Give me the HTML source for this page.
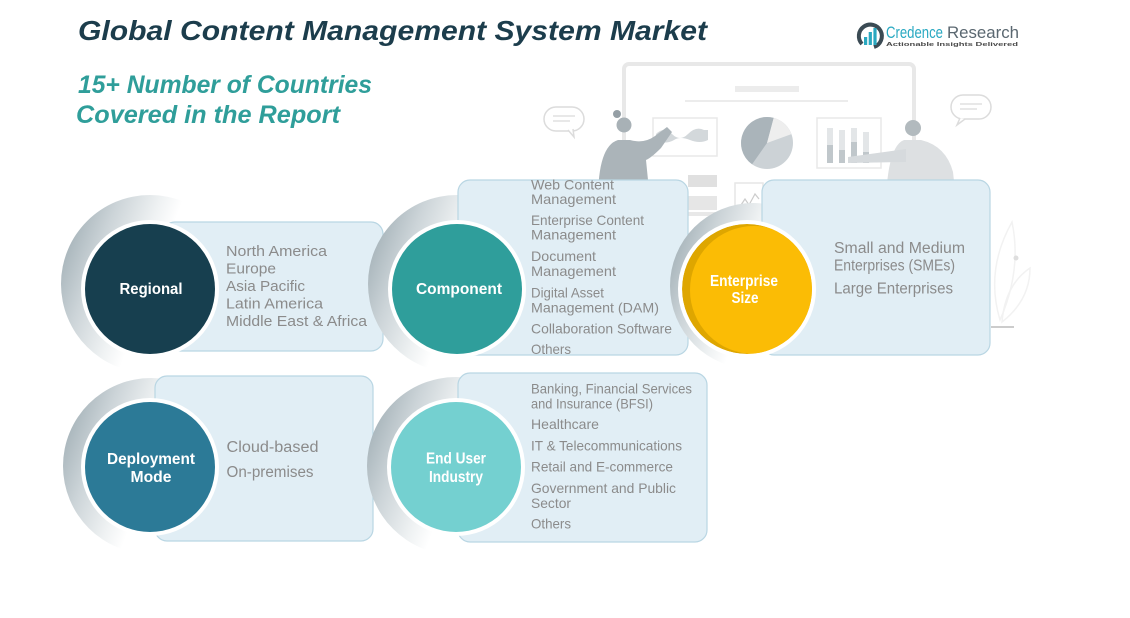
<!DOCTYPE html>
<html><head><meta charset="utf-8"><style>
html,body{margin:0;padding:0;background:#fff;}
svg{display:block;}
text{font-family:"Liberation Sans",Arial,sans-serif;}
.it{fill:#8b8b8b;}
.lb{fill:#ffffff;font-weight:bold;}
</style></head><body>
<svg width="1130" height="618" viewBox="0 0 1130 618" xmlns="http://www.w3.org/2000/svg">
<defs>
<linearGradient id="cr" x1="0" y1="0.35" x2="0.8" y2="0.65">
<stop offset="0" stop-color="#a8b5bb"/>
<stop offset="0.22" stop-color="#ccd4d8"/>
<stop offset="0.48" stop-color="#eff2f3"/>
<stop offset="0.62" stop-color="#ffffff"/>
</linearGradient>
<clipPath id="ec"><circle cx="747" cy="289" r="65"/></clipPath>
</defs>
<rect width="1130" height="618" fill="#fff"/>

<!-- Title -->
<text x="78" y="40" font-size="27.5" font-weight="bold" font-style="italic" fill="#1c3d4c" textLength="629" lengthAdjust="spacingAndGlyphs">Global Content Management System Market</text>
<text x="78" y="93" font-size="25" font-weight="bold" font-style="italic" fill="#2f9e9a" textLength="294" lengthAdjust="spacingAndGlyphs">15+ Number of Countries</text>
<text x="76" y="123" font-size="25" font-weight="bold" font-style="italic" fill="#2f9e9a" textLength="264" lengthAdjust="spacingAndGlyphs">Covered in the Report</text>

<!-- Logo -->
<path d="M862 44 A11.5 11.5 0 1 1 874 47" fill="none" stroke="#3b4b54" stroke-width="4"/>
<rect x="864" y="37" width="3.2" height="8" fill="#2aa8c0"/>
<rect x="868.7" y="32" width="3.2" height="13" fill="#2aa8c0"/>
<rect x="873.4" y="28" width="3.2" height="17" fill="#2aa8c0"/>
<text x="886" y="38" font-size="17" fill="#29a9c2" textLength="57" lengthAdjust="spacingAndGlyphs">Credence</text>
<text x="947" y="38" font-size="17" fill="#5a6770" textLength="72" lengthAdjust="spacingAndGlyphs">Research</text>
<text x="886" y="46" font-size="5.5" font-weight="bold" fill="#4a4a4a" textLength="132" lengthAdjust="spacingAndGlyphs">Actionable Insights Delivered</text>

<!-- Background illustration -->
<g>
 <rect x="624" y="64" width="290" height="150" rx="5" fill="#fff" stroke="#e8e8e8" stroke-width="4"/>
 <rect x="735" y="86" width="64" height="6" fill="#ececec"/>
 <line x1="685" y1="101" x2="848" y2="101" stroke="#ececec" stroke-width="2"/>
 <rect x="653" y="118" width="64" height="38" fill="#fff" stroke="#e8e8e8" stroke-width="1.5"/>
 <path d="M656 134 q8 -8 16 0 t16 0 t16 -4 l4 0 l0 10 q-8 4 -18 0 t-16 0 t-18 2 z" fill="#d3d8db"/>
 <circle cx="767" cy="143" r="26" fill="#ccd2d6"/>
 <path d="M767 143 L773.7 117.9 A26 26 0 0 0 752.1 164.3 Z" fill="#aab4ba"/>
 <path d="M767 143 L773.7 117.9 A26 26 0 0 1 791.4 134.1 Z" fill="#eeeeee"/>
 <rect x="817" y="118" width="64" height="50" fill="#fff" stroke="#e8e8e8" stroke-width="1.5"/>
 <rect x="827" y="128" width="6" height="35" fill="#e3e6e8"/><rect x="827" y="145" width="6" height="18" fill="#c0c7cb"/>
 <rect x="839" y="130" width="6" height="33" fill="#e3e6e8"/><rect x="839" y="150" width="6" height="13" fill="#c0c7cb"/>
 <rect x="851" y="128" width="6" height="35" fill="#e3e6e8"/><rect x="851" y="142" width="6" height="21" fill="#c0c7cb"/>
 <rect x="863" y="132" width="6" height="31" fill="#e3e6e8"/><rect x="863" y="152" width="6" height="11" fill="#c0c7cb"/>
 <!-- speech bubbles -->
 <rect x="544" y="107" width="40" height="24" rx="12" fill="#fff" stroke="#dcdcdc" stroke-width="1.5"/>
 <path d="M568 130 l6 7 l-1 -8" fill="#fff" stroke="#dcdcdc" stroke-width="1.5"/>
 <line x1="553" y1="116" x2="575" y2="116" stroke="#e0e0e0" stroke-width="1.5"/>
 <line x1="553" y1="121" x2="570" y2="121" stroke="#e0e0e0" stroke-width="1.5"/>
 <rect x="951" y="95" width="40" height="24" rx="12" fill="#fff" stroke="#dcdcdc" stroke-width="1.5"/>
 <path d="M960 118 l-3 7 l8 -6" fill="#fff" stroke="#dcdcdc" stroke-width="1.5"/>
 <line x1="960" y1="104" x2="982" y2="104" stroke="#e0e0e0" stroke-width="1.5"/>
 <line x1="960" y1="109" x2="977" y2="109" stroke="#e0e0e0" stroke-width="1.5"/>
 <!-- woman -->
 <circle cx="617" cy="114" r="4" fill="#959fa5"/>
 <circle cx="624" cy="125" r="7.5" fill="#a8b1b6"/>
 <path d="M598 200 Q598 146 618 140 L630 140 Q644 144 655 136 L667 127 L672 132 L661 148 Q651 158 646 160 L650 200 Z" fill="#abb4b9"/>
 <!-- man -->
 <circle cx="913" cy="128" r="8" fill="#b2babe"/>
 <path d="M886 200 Q888 146 904 140 L921 140 Q946 146 953 172 L956 200 Z" fill="#dde0e2"/>
 <path d="M906 149 L848 157 L848 163 L906 162 Z" fill="#d6dadd"/>
 <!-- small items -->
 <rect x="688" y="175" width="29" height="12" fill="#e0e0e0"/>
 <rect x="688" y="196" width="29" height="14" fill="#e6e6e6"/>
 <rect x="735" y="183" width="28" height="34" fill="#fff" stroke="#e6e6e6" stroke-width="1.5"/>
 <polyline points="739,208 745,199 749,205 755,194 759,199" fill="none" stroke="#cccccc" stroke-width="1.2"/>
 <!-- right deco -->
 <path d="M1000 320 Q985 270 1012 222 Q1022 270 1000 320 Z" fill="none" stroke="#f2f2f2" stroke-width="1.5"/>
 <path d="M1002 322 Q1030 300 1030 268 Q1005 285 1002 322 Z" fill="none" stroke="#f2f2f2" stroke-width="1.5"/>
 <circle cx="1016" cy="258" r="2.5" fill="#dedede"/>
 <line x1="991" y1="327" x2="1014" y2="327" stroke="#cccccc" stroke-width="2"/>
</g>

<!-- Regional -->
<circle cx="150" cy="284" r="89" fill="url(#cr)"/>
<rect x="163" y="222" width="220" height="129" rx="12" fill="#e1eef5" stroke="#b9d6e3" stroke-width="1.2"/>
<circle cx="150" cy="289" r="69" fill="#fff"/>
<circle cx="150" cy="289" r="65" fill="#173f4f"/>
<text class="lb" x="151" y="294" font-size="15.5" text-anchor="middle" textLength="63" lengthAdjust="spacingAndGlyphs">Regional</text>
<g class="it" font-size="15">
<text x="226" y="256" textLength="101" lengthAdjust="spacingAndGlyphs">North America</text>
<text x="226" y="273.5" textLength="50" lengthAdjust="spacingAndGlyphs">Europe</text>
<text x="226" y="291" textLength="79" lengthAdjust="spacingAndGlyphs">Asia Pacific</text>
<text x="226" y="308.5" textLength="97" lengthAdjust="spacingAndGlyphs">Latin America</text>
<text x="226" y="326" textLength="141" lengthAdjust="spacingAndGlyphs">Middle East &amp; Africa</text>
</g>

<!-- Component -->
<circle cx="457" cy="284" r="89" fill="url(#cr)"/>
<rect x="458" y="180" width="230" height="175" rx="12" fill="#e1eef5" stroke="#b9d6e3" stroke-width="1.2"/>
<circle cx="457" cy="289" r="69" fill="#fff"/>
<circle cx="457" cy="289" r="65" fill="#2f9e9b"/>
<text class="lb" x="459" y="294" font-size="15.5" text-anchor="middle" textLength="86" lengthAdjust="spacingAndGlyphs">Component</text>
<g class="it" font-size="14">
<text x="531" y="189.5" textLength="83" lengthAdjust="spacingAndGlyphs">Web Content</text>
<text x="531" y="204" textLength="85" lengthAdjust="spacingAndGlyphs">Management</text>
<text x="531" y="225" textLength="113" lengthAdjust="spacingAndGlyphs">Enterprise Content</text>
<text x="531" y="239.5" textLength="85" lengthAdjust="spacingAndGlyphs">Management</text>
<text x="531" y="261" textLength="65" lengthAdjust="spacingAndGlyphs">Document</text>
<text x="531" y="276" textLength="85" lengthAdjust="spacingAndGlyphs">Management</text>
<text x="531" y="297.5" textLength="73" lengthAdjust="spacingAndGlyphs">Digital Asset</text>
<text x="531" y="312.5" textLength="128" lengthAdjust="spacingAndGlyphs">Management (DAM)</text>
<text x="531" y="333.5" textLength="141" lengthAdjust="spacingAndGlyphs">Collaboration Software</text>
<text x="531" y="354" textLength="40" lengthAdjust="spacingAndGlyphs">Others</text>
</g>

<!-- Enterprise Size -->
<circle cx="753" cy="286" r="83" fill="url(#cr)"/>
<rect x="762" y="180" width="228" height="175" rx="12" fill="#e1eef5" stroke="#b9d6e3" stroke-width="1.2"/>
<circle cx="747" cy="289" r="69" fill="#fff"/>
<g clip-path="url(#ec)">
<circle cx="747" cy="289" r="65" fill="#dea600"/>
<circle cx="754" cy="290" r="64" fill="#fbbc05"/>
</g>
<text class="lb" x="744" y="286" font-size="15.5" text-anchor="middle" textLength="68" lengthAdjust="spacingAndGlyphs">Enterprise</text>
<text class="lb" x="745" y="303" font-size="15.5" text-anchor="middle" textLength="27" lengthAdjust="spacingAndGlyphs">Size</text>
<g class="it" font-size="15.5">
<text x="834" y="253" textLength="131" lengthAdjust="spacingAndGlyphs">Small and Medium</text>
<text x="834" y="270.5" textLength="121" lengthAdjust="spacingAndGlyphs">Enterprises (SMEs)</text>
<text x="834" y="293.5" textLength="119" lengthAdjust="spacingAndGlyphs">Large Enterprises</text>
</g>

<!-- Deployment Mode -->
<circle cx="151" cy="466" r="88" fill="url(#cr)"/>
<rect x="155" y="376" width="218" height="165" rx="12" fill="#e1eef5" stroke="#b9d6e3" stroke-width="1.2"/>
<circle cx="150" cy="467" r="69" fill="#fff"/>
<circle cx="150" cy="467" r="65" fill="#2c7a97"/>
<text class="lb" x="151" y="464" font-size="15.5" text-anchor="middle" textLength="88" lengthAdjust="spacingAndGlyphs">Deployment</text>
<text class="lb" x="151" y="482" font-size="15.5" text-anchor="middle" textLength="41" lengthAdjust="spacingAndGlyphs">Mode</text>
<g class="it" font-size="15.5">
<text x="226.5" y="452" textLength="92" lengthAdjust="spacingAndGlyphs">Cloud-based</text>
<text x="226.5" y="477" textLength="87" lengthAdjust="spacingAndGlyphs">On-premises</text>
</g>

<!-- End User Industry -->
<circle cx="456" cy="466" r="89" fill="url(#cr)"/>
<rect x="458" y="373" width="249" height="169" rx="12" fill="#e1eef5" stroke="#b9d6e3" stroke-width="1.2"/>
<circle cx="456" cy="467" r="69" fill="#fff"/>
<circle cx="456" cy="467" r="65" fill="#74d0d0"/>
<text class="lb" x="456" y="463.5" font-size="15.5" text-anchor="middle" textLength="60" lengthAdjust="spacingAndGlyphs">End User</text>
<text class="lb" x="456" y="482" font-size="15.5" text-anchor="middle" textLength="54" lengthAdjust="spacingAndGlyphs">Industry</text>
<g class="it" font-size="14">
<text x="531" y="393.5" textLength="161" lengthAdjust="spacingAndGlyphs">Banking, Financial Services</text>
<text x="531" y="408.5" textLength="122" lengthAdjust="spacingAndGlyphs">and Insurance (BFSI)</text>
<text x="531" y="429" textLength="68" lengthAdjust="spacingAndGlyphs">Healthcare</text>
<text x="531" y="450.5" textLength="151" lengthAdjust="spacingAndGlyphs">IT &amp; Telecommunications</text>
<text x="531" y="471.5" textLength="142" lengthAdjust="spacingAndGlyphs">Retail and E-commerce</text>
<text x="531" y="493" textLength="145" lengthAdjust="spacingAndGlyphs">Government and Public</text>
<text x="531" y="508" textLength="40" lengthAdjust="spacingAndGlyphs">Sector</text>
<text x="531" y="528.5" textLength="40" lengthAdjust="spacingAndGlyphs">Others</text>
</g>
</svg>
</body></html>
